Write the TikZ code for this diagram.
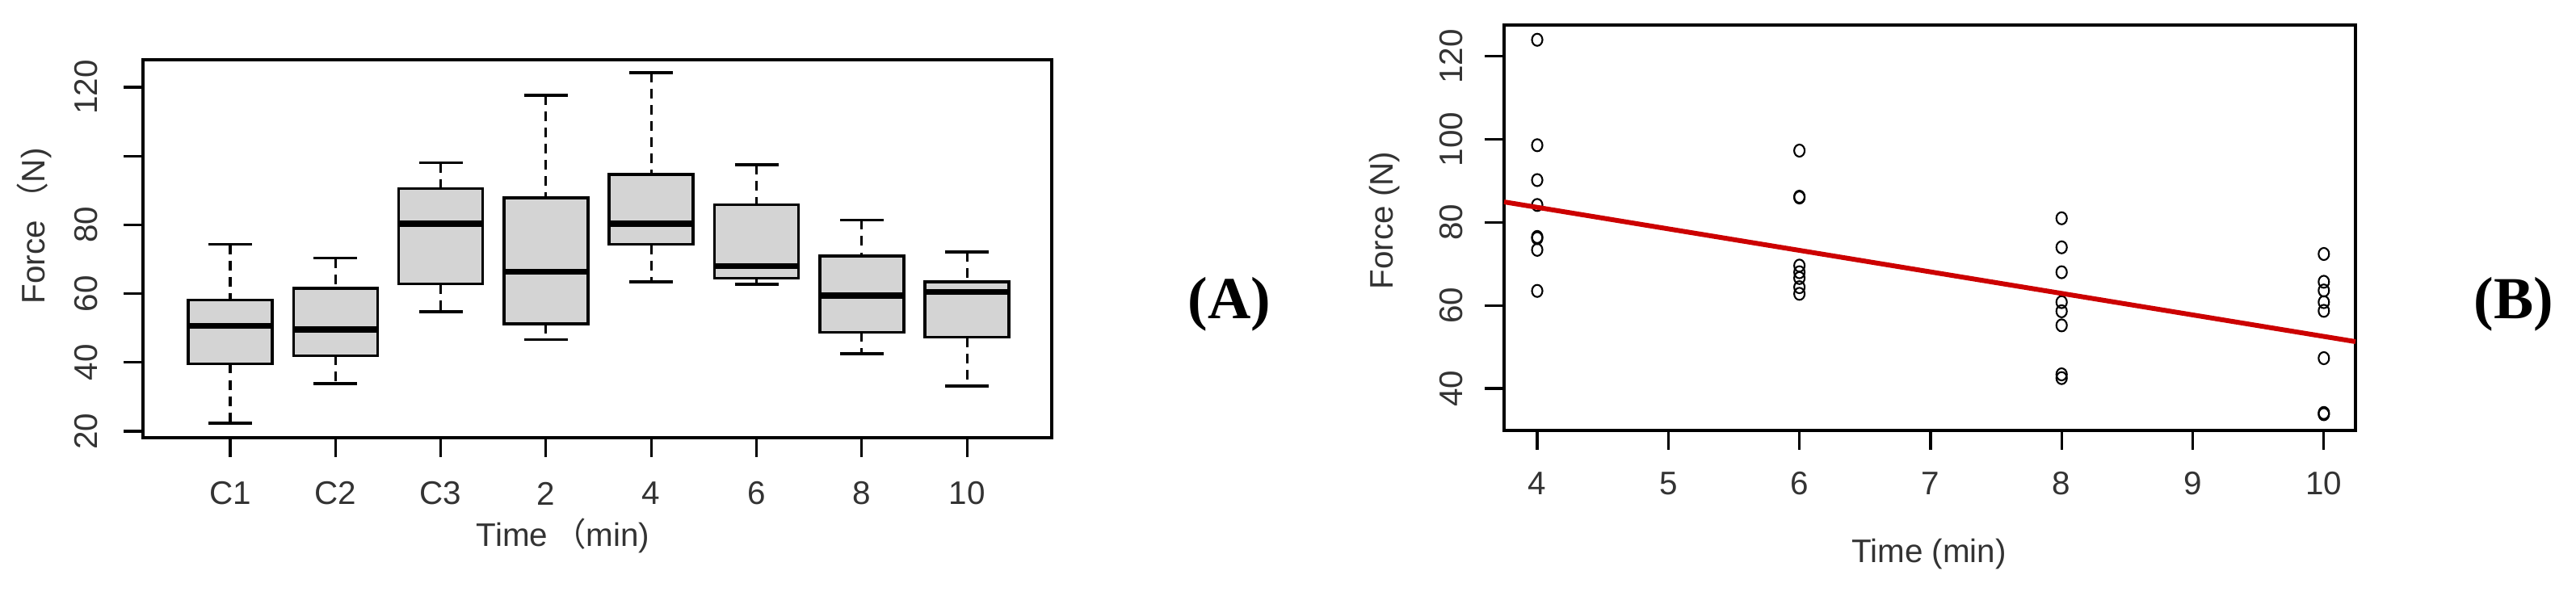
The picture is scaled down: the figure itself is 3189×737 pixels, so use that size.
\documentclass[tikz,border=0pt]{standalone}
\usepackage{fontspec}
\setmainfont{Liberation Sans}
\newfontfamily\cjk{Noto Sans CJK SC}
\newfontfamily\labfont{Liberation Serif}
\begin{document}
\begin{tikzpicture}[x=0.1mm,y=-0.1mm,
  frame/.style={line width=1.0pt},
  tk/.style={line width=0.9pt},
  ticklab/.style={font=\fontsize{11.5}{12}\selectfont, text=black!80},
  axlab/.style={font=\fontsize{11.5}{12}\selectfont, text=black!80},
  bx/.style={draw=black, fill=black!17, line width=1.0pt},
  wh/.style={line width=0.9pt, dash pattern=on 3.4pt off 2.3pt},
  whcap/.style={line width=1.0pt},
  med/.style={line width=2.1pt},
  pt/.style={draw=black, line width=0.6pt},
  panel/.style={font=\fontsize{21}{24}\selectfont\labfont\bfseries}]
\useasboundingbox (0,0) rectangle (3189,737);
% ---------- panel A ----------
\draw[frame] (177,74) rectangle (1302,542);
\foreach \v in {20,40,60,80,100,120}{
  \pgfmathsetmacro{\yy}{534-(\v-20)*4.26}
  \draw[tk] (153,\yy) -- (177,\yy);}
\foreach \v in {20,40,60,80,120}{
  \pgfmathsetmacro{\yy}{534-(\v-20)*4.26}
  \node[ticklab, rotate=90] (ya\v) at (107,\yy) {\v};}
\node[axlab, rotate=90] (ylabA) at (42,280) {Force\,{\cjk （}N)};
\foreach \i/\lab/\wt/\bt/\me/\bb/\wb in {
  0/C1/74.3/58.2/50.7/39.6/22.4,
  1/C2/70.3/61.6/49.6/42/33.9,
  2/C3/98/90.6/80.3/62.8/54.7,
  3/2/117.7/87.8/66.4/51.2/46.6,
  4/4/124.2/94.6/80.3/74.3/63.4,
  5/6/97.5/85.9/68/64.5/62.7,
  6/8/81.4/70.9/59.4/48.8/42.5,
  7/10/72.1/63.4/60.5/47.3/33.2}{
  \pgfmathsetmacro{\xc}{285+\i*130.3}
  \pgfmathsetmacro{\ywt}{534-(\wt-20)*4.26}
  \pgfmathsetmacro{\ybt}{534-(\bt-20)*4.26}
  \pgfmathsetmacro{\yme}{534-(\me-20)*4.26}
  \pgfmathsetmacro{\ybb}{534-(\bb-20)*4.26}
  \pgfmathsetmacro{\ywb}{534-(\wb-20)*4.26}
  \draw[wh] (\xc,\ywt) -- (\xc,\ybt);
  \draw[wh] (\xc,\ybb) -- (\xc,\ywb);
  \draw[whcap] (\xc-27,\ywt) -- (\xc+27,\ywt);
  \draw[whcap] (\xc-27,\ywb) -- (\xc+27,\ywb);
  \draw[bx] (\xc-52,\ybt) rectangle (\xc+52,\ybb);
  \draw[med] (\xc-51,\yme) -- (\xc+51,\yme);
  \draw[tk] (\xc,542) -- (\xc,566);
  \node[ticklab] (xa\i) at (\xc,611) {\lab};}
\node[axlab] (xlabA) at (697,663) {Time\,{\cjk （}min)};
\node[panel] (pA) at (1522,377) {(A)};
% ---------- panel B ----------
\draw[frame] (1862,31) rectangle (2916,533);
\foreach \v in {40,60,80,100,120}{
  \pgfmathsetmacro{\yy}{481-(\v-40)*5.14}
  \draw[tk] (1838,\yy) -- (1862,\yy);
  \node[ticklab, rotate=90] (yb\v) at (1797,\yy) {\v};}
\foreach \t in {4,...,10}{
  \pgfmathsetmacro{\xx}{1903+(\t-4)*162.3}
  \draw[tk] (\xx,533) -- (\xx,557);
  \node[ticklab] (xb\t) at (\xx,599) {\t};}
\node[axlab, rotate=90] (ylabB) at (1714,273) {Force (N)};
\node[axlab] (xlabB) at (2388,686) {Time (min)};
\foreach \t/\v in {4/124,4/98.6,4/90.2,4/84.2,4/76.5,4/76.2,4/73.4,4/63.5,
  6/97.3,6/86.2,6/86.0,6/69.6,6/68,6/66.6,6/64.4,6/62.8,
  8/81,8/74,8/68,8/60.8,8/58.6,8/55.2,8/43.4,8/42.5,
  10/72.4,10/65.7,10/63.6,10/60.8,10/58.7,10/47.3,10/34.1,10/33.8}{
  \pgfmathsetmacro{\xx}{1903+(\t-4)*162.3}
  \pgfmathsetmacro{\yy}{481-(\v-40)*5.14}
  \draw[pt] (\xx,\yy) ellipse (6.5 and 7.5);}
\coordinate (rl) at (1862,250);
\coordinate (rr) at (2916,423);
\draw[red!80!black, line width=1.7pt] (rl) -- (rr);
\node[panel] (pB) at (3112,377) {(B)};
\end{tikzpicture}
\end{document}
